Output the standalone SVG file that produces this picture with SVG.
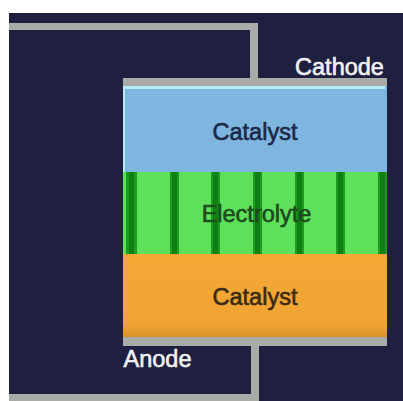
<svg xmlns="http://www.w3.org/2000/svg" width="403" height="401" viewBox="0 0 403 401">
<defs>
<style>
.lbl{font-family:"Liberation Sans",Arial,sans-serif;font-size:23.5px;text-anchor:middle;stroke-width:0.6px}
.wire{fill:#a9aba6}
.stripe{fill:#1c9c1e}
.core{fill:#0f7f13}
</style>
<linearGradient id="og" x1="0" y1="0" x2="0" y2="1">
<stop offset="0" stop-color="#f3a836"/>
<stop offset="0.85" stop-color="#f1a433"/>
<stop offset="1" stop-color="#d9912a"/>
</linearGradient>
</defs>
<rect x="0" y="0" width="403" height="401" fill="#ffffff"/>
<rect x="9" y="13" width="394" height="388" fill="#1f1f40"/>
<g id="connectors">
<rect class="wire" x="9" y="23" width="249" height="7"/>
<rect class="wire" x="250" y="23" width="8" height="57"/>
<rect class="wire" x="123" y="78" width="264" height="8"/>
<rect class="wire" x="123" y="337" width="264" height="9"/>
<rect class="wire" x="251" y="344" width="8" height="52"/>
<rect class="wire" x="9" y="394" width="250" height="7"/>
</g>
<g id="catalyst-top">
<rect x="123" y="86" width="264" height="86" fill="#7eb6df"/>
<rect x="123" y="86" width="262" height="3" fill="#b4ecf9"/>
<rect x="123" y="86" width="2" height="86" fill="#b4ecf9"/>
<text class="lbl" x="255" y="139.5" fill="#1c2846" stroke="#1c2846">Catalyst</text>
</g>
<g id="electrolyte">
<rect x="123" y="172" width="264" height="82" fill="#5fe05b"/>
<rect class="stripe" x="126" y="172" width="11" height="82"/>
<rect class="core" x="129" y="172" width="5" height="82"/>
<rect class="stripe" x="170" y="172" width="9" height="82"/>
<rect class="core" x="172" y="172" width="5" height="82"/>
<rect class="stripe" x="211" y="172" width="9" height="82"/>
<rect class="core" x="213" y="172" width="5" height="82"/>
<rect class="stripe" x="253" y="172" width="9" height="82"/>
<rect class="core" x="255" y="172" width="5" height="82"/>
<rect class="stripe" x="295" y="172" width="9" height="82"/>
<rect class="core" x="297" y="172" width="5" height="82"/>
<rect class="stripe" x="336" y="172" width="9" height="82"/>
<rect class="core" x="338" y="172" width="5" height="82"/>
<rect class="stripe" x="378" y="172" width="9" height="82"/>
<rect class="core" x="380" y="172" width="5" height="82"/>
<text class="lbl" x="256.5" y="222" fill="#1b4a1c" stroke="#1b4a1c">Electrolyte</text>
</g>
<g id="catalyst-bottom">
<rect x="123" y="254" width="264" height="83" fill="url(#og)"/>
<text class="lbl" x="255" y="305" fill="#3a2a12" stroke="#3a2a12">Catalyst</text>
</g>
<g id="cathode">
<text class="lbl" x="339.5" y="75" fill="#f2f2f2" stroke="#f2f2f2">Cathode</text>
</g>
<g id="anode">
<text class="lbl" x="157.5" y="367" fill="#f2f2f2" stroke="#f2f2f2">Anode</text>
</g>
</svg>
